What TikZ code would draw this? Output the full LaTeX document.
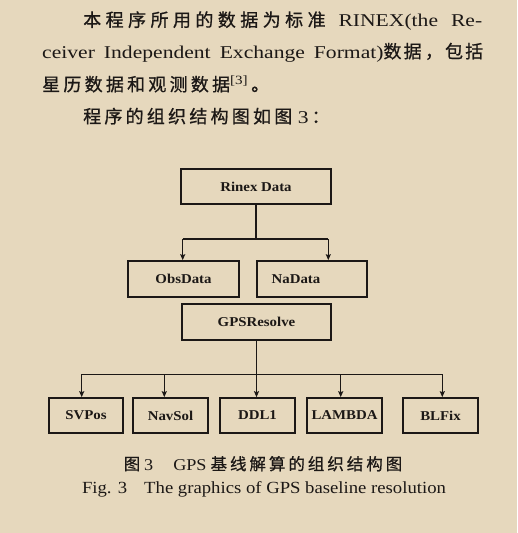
\documentclass[tikz,border=0pt]{standalone}
\usepackage{fontspec}
\setmainfont[FakeStretch=1.2]{Liberation Serif}
\newfontfamily\cjk[LetterSpace=18,FakeBold=0.8]{Noto Sans CJK SC}
\newfontfamily\capfont[FakeStretch=1.1]{Liberation Serif}
\usetikzlibrary{arrows.meta}
\definecolor{paper}{RGB}{230,216,189}
\definecolor{ink}{RGB}{28,24,22}
\XeTeXlinebreaklocale "zh"
\XeTeXlinebreakskip=0pt plus 1.6pt
\begin{document}
\begin{tikzpicture}[x=1pt,y=-1pt,
  box/.style={draw=ink, line width=1.6pt, inner sep=0pt, text=ink,
    font=\capfont\fontsize{13.5}{16}\selectfont\bfseries, minimum height=35pt},
  conn/.style={draw=ink, line width=1.3pt},
  arr/.style={conn, -{Stealth[length=6pt,width=5pt,inset=1pt]}},
  txt/.style={inner sep=0pt, text=ink, font=\fontsize{18}{20}\selectfont}]
\fill[paper] (0,0) rectangle (517,533);
\useasboundingbox (0,0) rectangle (517,533);

% body text
\node[txt, anchor=base west, text width=399pt, align=justify] (l1) at (83,26.5)
  {\noindent\rightskip=0pt\parfillskip=0pt {\cjk 本程序所用的数据为标准} RINEX(the Re-\par};
\node[txt, anchor=base west, text width=441pt, align=justify] (l2) at (42,58)
  {\noindent\rightskip=0pt\parfillskip=0pt ceiver Independent Exchange Format){\cjk 数据，包括}\par};
\node[txt, anchor=base west] (l3) at (42,91)
  {{\cjk 星历数据和观测数据}\textsuperscript{[3]}\,{\cjk 。}};
\node[txt, anchor=base west] (l4) at (83,123)
  {{\cjk 程序的组织结构图如图}\ 3\,{\cjk ：}};

% boxes
\node[box, minimum width=150pt] (rinex) at (256,186.5) {Rinex Data};
\node[box, minimum width=111pt, minimum height=36pt] (obs) at (183.5,279) {ObsData};
\node[box, minimum width=110pt, minimum height=36pt] (na) at (312,279) {NaData\hspace*{32pt}};
\node[box, minimum width=149pt, minimum height=36pt] (gps) at (256.5,322) {GPSResolve};
\node[box, minimum width=74pt] (svpos) at (86,415.5) {SVPos};
\node[box, minimum width=75pt] (navsol) at (170.5,415.5) {NavSol};
\node[box, minimum width=75pt] (ddl) at (257.5,415.5) {DDL1};
\node[box, minimum width=75pt] (lambda) at (344.5,415.5) {LAMBDA};
\node[box, minimum width=75pt] (blfix) at (440.5,415.5) {BLFix};

% connectors top
\coordinate (jl) at (182.7,239);
\coordinate (jr) at (328.3,239);
\draw[conn] (rinex.south) -- (rinex.south |- jl);
\draw[conn] (jl) -- (jr);
\draw[arr] (jl) -- (jl |- obs.north);
\draw[arr] (jr) -- (jr |- na.north);

% connectors bottom
\coordinate (h1) at (81.7,374.3);
\coordinate (h2) at (164.3,374.3);
\coordinate (h4) at (340.7,374.3);
\coordinate (h5) at (442.3,374.3);
\draw[conn] (h1) -- (h5);
\draw[arr] (gps.south) -- (gps.south |- ddl.north);
\draw[arr] (h1) -- (h1 |- svpos.north);
\draw[arr] (h2) -- (h2 |- navsol.north);
\draw[arr] (h4) -- (h4 |- lambda.north);
\draw[arr] (h5) -- (h5 |- blfix.north);

% captions
\node[inner sep=0pt, anchor=base, text=ink, font=\capfont\fontsize{16.5}{18}\selectfont] (cap1) at (263,470)
  {{\cjk 图}\hspace*{4pt}3\hspace*{20pt}GPS\hspace*{4pt}{\cjk 基线解算的组织结构图}};
\node[inner sep=0pt, anchor=base, text=ink, font=\capfont\fontsize{17}{19}\selectfont] (cap2) at (264,493)
  {Fig. 3\quad The graphics of GPS baseline resolution};
\end{tikzpicture}
\end{document}
